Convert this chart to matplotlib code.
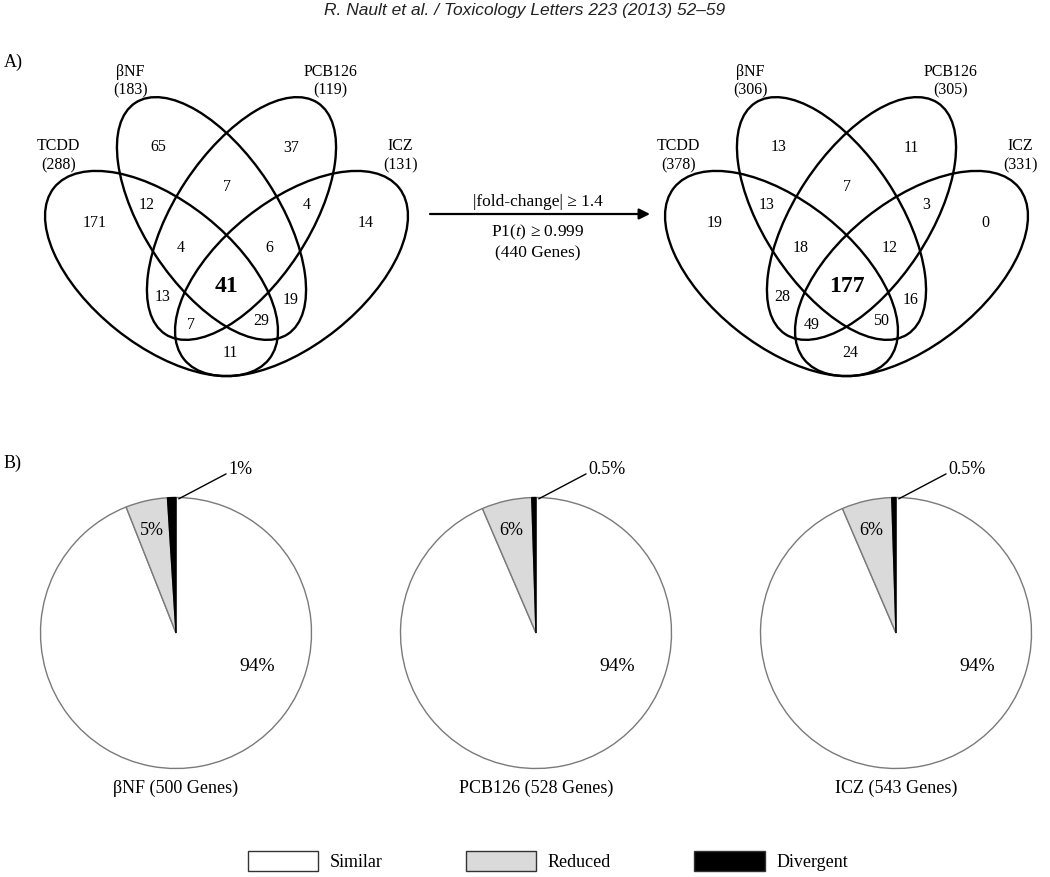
import matplotlib
matplotlib.use('Agg')
import matplotlib.pyplot as plt
from matplotlib.patches import Ellipse, Patch

plt.rcParams['font.family'] = ['Liberation Serif', 'DejaVu Serif']
plt.rcParams['mathtext.fontset'] = 'custom'
plt.rcParams['mathtext.rm'] = 'Liberation Serif'
plt.rcParams['mathtext.it'] = 'Liberation Serif:italic'

# Venn data (T = TCDD, B = bNF, P = PCB126, I = ICZ)
set_names = ['TCDD', 'βNF', 'PCB126', 'ICZ']
sizes_before = [288, 183, 119, 131]
sizes_after = [378, 306, 305, 331]
regions = ['T', 'B', 'P', 'I', 'TB', 'BP', 'PI', 'TBP', 'BPI',
           'TBPI', 'TP', 'BI', 'TPI', 'TBI', 'TI']
counts_before = [171, 65, 37, 14, 12, 7, 4, 4, 6, 41, 13, 19, 7, 29, 11]
counts_after = [19, 13, 11, 0, 13, 7, 3, 18, 12, 177, 28, 16, 49, 50, 24]

# pie data
pie_titles = ['βNF (500 Genes)', 'PCB126 (528 Genes)', 'ICZ (543 Genes)']
categories = ['Similar', 'Reduced', 'Divergent']
similar_pct = [94, 94, 94]
reduced_pct = [5, 6, 6]
divergent_pct = [1, 0.5, 0.5]
cat_colors = ['white', '#dadada', 'black']

W, H = 1050, 877
fig = plt.figure(figsize=(W / 100, H / 100), dpi=100)
ax = fig.add_axes([0, 0, 1, 1])
ax.set_xlim(0, W)
ax.set_ylim(H, 0)
ax.axis('off')

ax.text(525, 10, 'R. Nault et al. / Toxicology Letters 223 (2013) 52\u201359',
        ha='center', va='center', fontsize=12.5, style='italic',
        family=['Liberation Sans', 'DejaVu Sans'], color='#222222')
ax.text(4, 62, 'A)', ha='left', va='center', fontsize=13)
ax.text(4, 463, 'B)', ha='left', va='center', fontsize=13)

# ellipse layout relative to the symmetry axis of each diagram
ell_geom = [(-65, 273.5, 275, 144, 38.6),
            (-15, 218.5, 277, 134, 56.6),
            (15, 218.5, 277, 134, 123.4),
            (65, 273.5, 275, 144, 141.4)]
name_pos = [(-168, 156), (-96, 81), (104, 81), (174, 156)]
region_pos = [(-132, 223), (-68, 147), (65, 148), (139, 223),
              (-80, 205), (1, 187), (80, 205), (-46, 248), (43, 248),
              (0, 287), (-64, 297), (64, 300), (-35, 325), (35, 321),
              (4, 353)]


def draw_venn(x0, sizes, counts):
    for dx, cy, w, h, ang in ell_geom:
        ax.add_patch(Ellipse((x0 + dx, cy), w, h, angle=ang, fill=False,
                             lw=1.7, ec='black'))
    for (dx, y), name, n in zip(name_pos, set_names, sizes):
        ax.text(x0 + dx, y, f'{name}\n({n})', ha='center', va='center',
                fontsize=11.5, linespacing=1.25)
    for (dx, y), key, n in zip(region_pos, regions, counts):
        if key == 'TBPI':
            ax.text(x0 + dx, y, str(n), ha='center', va='center',
                    fontsize=17, fontweight='bold')
        else:
            ax.text(x0 + dx, y, str(n), ha='center', va='center', fontsize=11.5)


draw_venn(226.5, sizes_before, counts_before)
draw_venn(846.5, sizes_after, counts_after)

# filter arrow
ax.annotate('', xy=(650, 214), xytext=(430, 214),
            arrowprops=dict(arrowstyle='-|>', lw=1.6, color='black',
                            mutation_scale=16, shrinkA=0, shrinkB=0))
ax.text(538, 202, '|fold-change| ≥ 1.4', ha='center', va='center', fontsize=12.5)
ax.text(538, 232, r'P1($t$) ≥ 0.999', ha='center', va='center', fontsize=12.5)
ax.text(538, 253, '(440 Genes)', ha='center', va='center', fontsize=12.5)

# pies
R = 135.5
pie_cy = 633
pie_cx = [176, 536, 896]
m = 1.35
for i in range(3):
    cx = pie_cx[i]
    pax = fig.add_axes([(cx - m * R) / W, 1 - (pie_cy + m * R) / H,
                        2 * m * R / W, 2 * m * R / H])
    vals = [similar_pct[i], reduced_pct[i], divergent_pct[i]]
    wedges, _ = pax.pie(vals, colors=cat_colors, startangle=90,
                        counterclock=False, radius=1,
                        wedgeprops=dict(ec='#7a7a7a', lw=1.0))
    wedges[2].set_edgecolor('black')
    pax.set_xlim(-m, m)
    pax.set_ylim(-m, m)
    pax.text(0.60, -0.25, f'{similar_pct[i]:g}%', ha='center', va='center',
             fontsize=14)
    pax.text(-0.18, 0.76, f'{reduced_pct[i]:g}%', ha='center', va='center',
             fontsize=13)
    pax.annotate(f'{divergent_pct[i]:g}%', xy=(0.02, 0.99), xytext=(0.39, 1.21),
                 ha='left', va='center', fontsize=13,
                 arrowprops=dict(arrowstyle='-', lw=1.0, color='black',
                                 shrinkA=0, shrinkB=0, relpos=(0, 0.3)))
    pax.text(0, -1.15, pie_titles[i], ha='center', va='center', fontsize=13)

handles = [Patch(fc=c, ec='#333333', lw=1.0) for c in cat_colors]
fig.legend(handles, categories, ncol=3, loc='center',
           bbox_to_anchor=(548 / W, 1 - 861 / H), frameon=False,
           fontsize=13, handlelength=3.9, handleheight=1.3,
           handletextpad=0.65, columnspacing=4.6, borderpad=0)

fig.savefig('out.png', dpi=100, facecolor='white')
